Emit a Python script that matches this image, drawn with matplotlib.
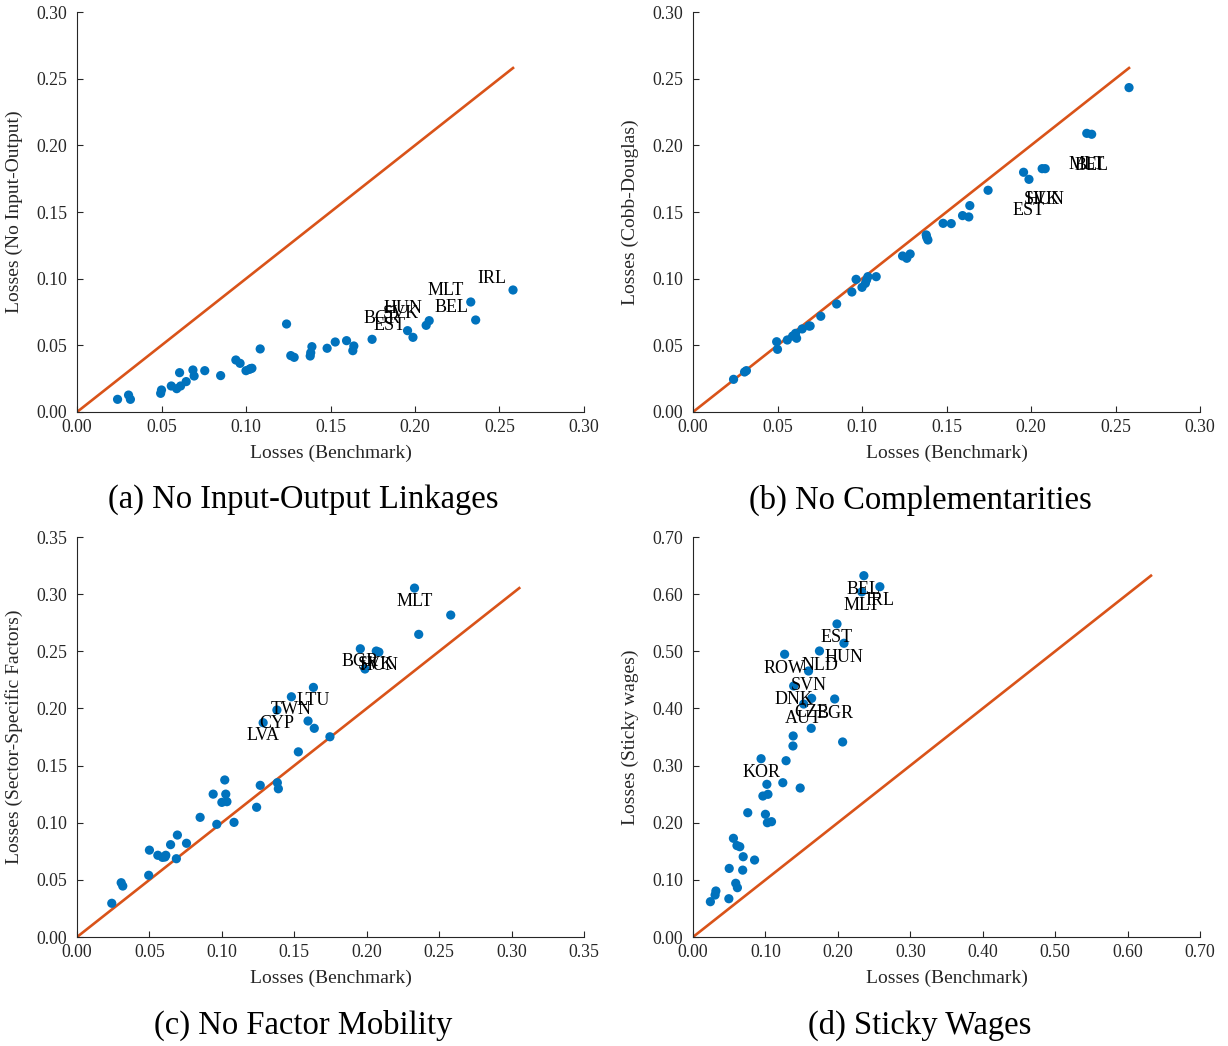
import matplotlib
matplotlib.use("Agg")
import matplotlib.pyplot as plt
import numpy as np

plt.rcParams['font.family'] = ['Liberation Serif', 'DejaVu Serif']

# Benchmark losses (shared x for all panels), one entry per country
countries = ["", "", "", "", "", "", "", "", "", "", "",
             "", "", "", "KOR", "", "", "", "", "", "",
             "", "ROW", "LVA", "CYP", "", "DNK", "TWN", "AUT", "SVN", "LTU",
             "CZE", "NLD", "BGR", "EST", "SVK", "HUN", "MLT", "BEL", "IRL"]
benchmark = [0.024, 0.0305, 0.0316, 0.0495, 0.050, 0.0558, 0.059, 0.0607, 0.0613, 0.0646, 0.0686,
             0.0693, 0.0756, 0.085, 0.094, 0.0965, 0.100, 0.102, 0.1035, 0.1027, 0.1084,
             0.124, 0.1265, 0.1285, 0.138, 0.1383, 0.139, 0.148, 0.1528, 0.1595, 0.1632,
             0.1638, 0.1746, 0.1956, 0.1988, 0.2066, 0.2084, 0.233, 0.2359, 0.258]

no_io = [0.0095, 0.0127, 0.0095, 0.014, 0.0165, 0.0195, 0.0175, 0.0295, 0.0195, 0.0228, 0.0315,
         0.027, 0.031, 0.0273, 0.039, 0.0365, 0.031, 0.032, 0.0328, 0.0325, 0.0473,
         0.066, 0.0423, 0.041, 0.042, 0.0445, 0.049, 0.0478, 0.0525, 0.0535, 0.046,
         0.0495, 0.0545, 0.061, 0.056, 0.065, 0.0685, 0.0825, 0.069, 0.0915]

cobb_douglas = [0.0245, 0.030, 0.031, 0.0527, 0.047, 0.054, 0.057, 0.059, 0.0553, 0.0623, 0.0645,
                0.0645, 0.0718, 0.081, 0.090, 0.0995, 0.0935, 0.0965, 0.1015, 0.099, 0.1015,
                0.117, 0.1153, 0.1185, 0.1328, 0.131, 0.129, 0.1415, 0.1413, 0.1473, 0.1463,
                0.1548, 0.1663, 0.1798, 0.1745, 0.1825, 0.1825, 0.209, 0.2083, 0.2433]

sector_specific = [0.0295, 0.0475, 0.0446, 0.054, 0.076, 0.0715, 0.0697, 0.070, 0.0715, 0.0808, 0.0685,
                   0.0892, 0.082, 0.1047, 0.125, 0.0986, 0.1178, 0.1374, 0.1184, 0.125, 0.1003,
                   0.1135, 0.1327, 0.1875, 0.1986, 0.135, 0.1297, 0.2102, 0.162, 0.189, 0.2184,
                   0.1826, 0.1752, 0.2522, 0.2345, 0.2502, 0.2493, 0.3053, 0.2648, 0.2817]

sticky_wages = [0.0618, 0.0735, 0.0805, 0.067, 0.120, 0.1727, 0.094, 0.160, 0.0863, 0.158, 0.117,
                0.1405, 0.2175, 0.1347, 0.312, 0.2467, 0.2147, 0.2672, 0.2497, 0.200, 0.2018,
                0.270, 0.4948, 0.3085, 0.3343, 0.3518, 0.4393, 0.2607, 0.4077, 0.4655, 0.3652,
                0.4177, 0.5005, 0.4165, 0.5478, 0.3413, 0.514, 0.604, 0.6323, 0.613]

labels_a = ["BGR", "EST", "SVK", "HUN", "MLT", "BEL", "IRL"]
labels_b = ["EST", "SVK", "HUN", "MLT", "BEL"]
labels_c = ["LVA", "CYP", "TWN", "LTU", "BGR", "SVK", "HUN", "MLT"]
labels_d = ["KOR", "ROW", "DNK", "AUT", "SVN", "CZE", "NLD", "BGR", "EST", "HUN", "MLT", "BEL", "IRL"]

panels = [
    dict(y=no_io, ylabel="Losses (No Input-Output)", lim=0.30, step=0.05, labels=labels_a,
         title="(a) No Input-Output Linkages", off=(-7, 12), ha="right"),
    dict(y=cobb_douglas, ylabel="Losses (Cobb-Douglas)", lim=0.30, step=0.05, labels=labels_b,
         title="(b) No Complementarities", off=(0, -31), ha="center"),
    dict(y=sector_specific, ylabel="Losses (Sector-Specific Factors)", lim=0.35, step=0.05, labels=labels_c,
         title="(c) No Factor Mobility", off=(0, -13), ha="center"),
    dict(y=sticky_wages, ylabel="Losses (Sticky wages)", lim=0.70, step=0.10, labels=labels_d,
         title="(d) Sticky Wages", off=(0, -14), ha="center"),
]

W, H = 1228, 1046
fig = plt.figure(figsize=(W / 100, H / 100), dpi=100)

# axes boxes in pixels: left, top
boxes = [(77, 12), (693, 12), (77, 537), (693, 537)]
aw, ah = 507, 400
title_pos = [(303, 500), (920, 500), (303, 1025), (920, 1025)]

blue = "#0072BD"
orange = "#D95319"
axcol = "#262626"

x = np.array(benchmark)
for i, p in enumerate(panels):
    lx, ty = boxes[i]
    ax = fig.add_axes([lx / W, 1 - (ty + ah) / H, aw / W, ah / H])
    y = np.array(p["y"])
    m = max(x.max(), y.max())
    ax.plot([0, m], [0, m], color=orange, lw=1.9, zorder=1)
    ax.scatter(x, y, s=44, color=blue, edgecolors="none", zorder=2)
    for name, xi, yi in zip(countries, x, y):
        if name and name in p["labels"]:
            ax.annotate(name, (xi, yi), xytext=p["off"], textcoords="offset pixels",
                        ha=p["ha"], va="center", fontsize=13, color="black", zorder=3)
    lim = p["lim"]
    ax.set_xlim(0, lim)
    ax.set_ylim(0, lim)
    ticks = np.arange(0, lim + 1e-9, p["step"])
    ax.set_xticks(ticks)
    ax.set_yticks(ticks)
    ax.set_xticklabels([f"{t:.2f}" for t in ticks])
    ax.set_yticklabels([f"{t:.2f}" for t in ticks])
    for s in ["top", "right"]:
        ax.spines[s].set_visible(False)
    for s in ["left", "bottom"]:
        ax.spines[s].set_color(axcol)
        ax.spines[s].set_linewidth(0.8)
    ax.tick_params(direction="in", length=4.5, width=0.8, colors=axcol, labelsize=12.8,
                   labelcolor=axcol)
    ax.tick_params(axis="x", pad=5)
    ax.tick_params(axis="y", pad=7)
    ax.set_xlabel("Losses (Benchmark)", fontsize=14, color=axcol, va="center")
    ax.xaxis.set_label_coords(0.5, -(453 - 412) / ah)
    ax.set_ylabel(p["ylabel"], fontsize=14, color=axcol, va="center")
    ax.yaxis.set_label_coords(-63 / aw, 0.5)
    tx, tyy = title_pos[i]
    fig.text(tx / W, 1 - tyy / H, p["title"], ha="center", va="center", fontsize=23.5, color="black")

fig.savefig("out.png", dpi=100)
